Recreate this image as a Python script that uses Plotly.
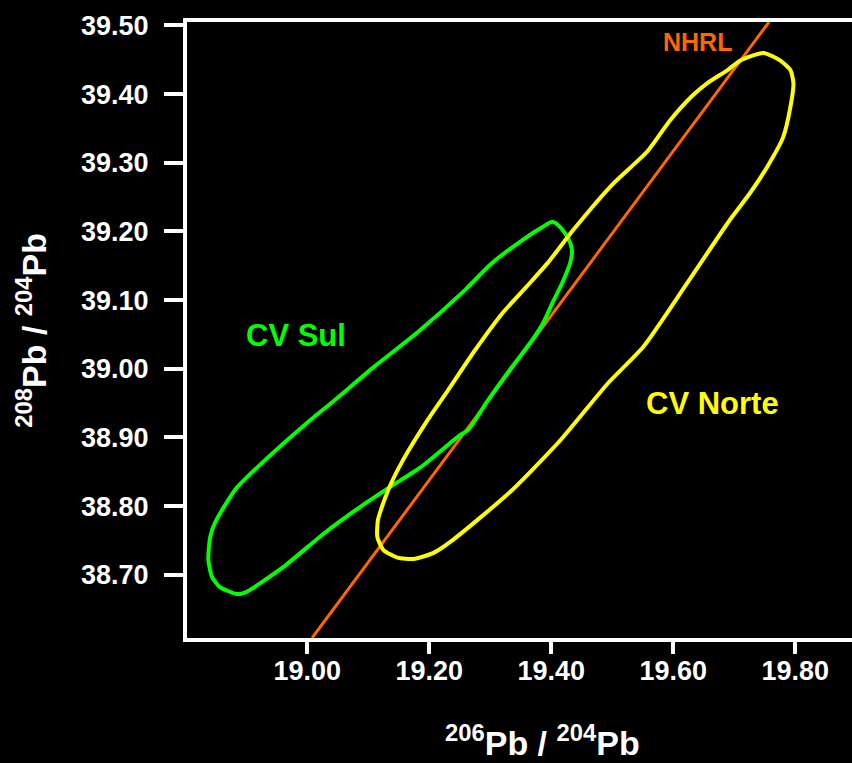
import plotly.graph_objects as go

# CV Sul contour (206Pb/204Pb, 208Pb/204Pb)
sul_x = [19.402, 19.415, 19.428, 19.434, 19.431, 19.418, 19.402, 19.387, 19.369, 19.336,
         19.297, 19.264, 19.250, 19.185, 19.136, 19.087, 19.030, 18.959, 18.898, 18.885,
         18.857, 18.844, 18.838, 18.841, 18.849, 18.882, 18.926, 19.002, 19.046, 19.107,
         19.182, 19.259, 19.303, 19.357, 19.385, 19.402]
sul_y = [39.214, 39.206, 39.190, 39.173, 39.154, 39.125, 39.096, 39.067, 39.042, 39.003,
         38.955, 38.911, 38.903, 38.856, 38.828, 38.799, 38.762, 38.710, 38.674, 38.672,
         38.682, 38.697, 38.722, 38.755, 38.776, 38.824, 38.863, 38.923, 38.955, 39.001,
         39.054, 39.115, 39.154, 39.190, 39.206, 39.214]

# CV Norte contour
norte_x = [19.748, 19.775, 19.792, 19.797, 19.792, 19.780, 19.754, 19.726, 19.693, 19.623,
           19.551, 19.493, 19.415, 19.333, 19.239, 19.207, 19.174, 19.148, 19.125, 19.115,
           19.116, 19.133, 19.157, 19.197, 19.231, 19.275, 19.320, 19.362, 19.395, 19.436,
           19.502, 19.557, 19.595, 19.633, 19.656, 19.689, 19.710, 19.748]
norte_y = [39.460, 39.449, 39.435, 39.416, 39.381, 39.337, 39.294, 39.256, 39.217, 39.125,
           39.032, 38.979, 38.896, 38.821, 38.751, 38.732, 38.723, 38.725, 38.736, 38.755,
           38.780, 38.824, 38.867, 38.925, 38.969, 39.027, 39.081, 39.122, 39.155, 39.202,
           39.270, 39.316, 39.362, 39.399, 39.416, 39.435, 39.449, 39.460]

# NHRL reference line
nhrl_x = [19.008, 19.757]
nhrl_y = [38.608, 39.505]

x_ticks = [19.0, 19.2, 19.4, 19.6, 19.8]
x_tick_text = ["19.00", "19.20", "19.40", "19.60", "19.80"]
y_ticks = [38.7, 38.8, 38.9, 39.0, 39.1, 39.2, 39.3, 39.4, 39.5]
y_tick_text = ["38.70", "38.80", "38.90", "39.00", "39.10", "39.20", "39.30", "39.40", "39.50"]

GREEN = "#00ff00"
YELLOW = "#ffff00"
ORANGE = "#ff6600"
FONT = "Liberation Sans, Arial, sans-serif"

fig = go.Figure()
fig.add_trace(go.Scatter(x=nhrl_x, y=nhrl_y, mode="lines",
                         line=dict(color=ORANGE, width=3), hoverinfo="skip"))
fig.add_trace(go.Scatter(x=sul_x, y=sul_y, mode="lines",
                         line=dict(color=GREEN, width=4, shape="spline", smoothing=0.6)))
fig.add_trace(go.Scatter(x=norte_x, y=norte_y, mode="lines",
                         line=dict(color=YELLOW, width=4, shape="spline", smoothing=0.6)))

fig.add_annotation(x=18.982, y=39.048, text="CV Sul", showarrow=False,
                   font=dict(family=FONT, size=31, color=GREEN, weight="bold"))
fig.add_annotation(x=19.664, y=38.949, text="CV Norte", showarrow=False,
                   font=dict(family=FONT, size=31, color=YELLOW, weight="bold"))
fig.add_annotation(x=19.639, y=39.476, text="NHRL", showarrow=False,
                   font=dict(family=FONT, size=25, color=ORANGE, weight="bold"))

# axis titles
fig.add_annotation(xref="paper", yref="paper", x=0.534, y=-0.167,
                   text="<sup>206</sup>Pb / <sup>204</sup>Pb", showarrow=False,
                   xanchor="center", yanchor="middle",
                   font=dict(family=FONT, size=34, color="white", weight="bold"))
fig.add_annotation(xref="paper", yref="paper", x=-0.235, y=0.5, textangle=-90,
                   text="<sup>208</sup>Pb / <sup>204</sup>Pb", showarrow=False,
                   xanchor="center", yanchor="middle",
                   font=dict(family=FONT, size=34, color="white", weight="bold"))

fig.update_layout(
    width=852, height=763,
    margin=dict(l=187, r=0, t=22, b=125),
    paper_bgcolor="black", plot_bgcolor="black",
    showlegend=False,
    xaxis=dict(range=[18.803, 19.893], tickvals=x_ticks, ticktext=x_tick_text,
               showgrid=False, zeroline=False, showline=True, linecolor="white",
               linewidth=4, mirror=True, ticks="outside", ticklen=12, tickwidth=4,
               tickcolor="white", ticklabelstandoff=-6,
               tickfont=dict(family=FONT, size=27, color="white", weight="bold")),
    yaxis=dict(range=[38.608, 39.505], tickvals=y_ticks, ticktext=y_tick_text,
               showgrid=False, zeroline=False, showline=True, linecolor="white",
               linewidth=4, ticks="outside", ticklen=19, tickwidth=4,
               tickcolor="white", ticklabelstandoff=10,
               tickfont=dict(family=FONT, size=27, color="white", weight="bold")),
)

fig.write_html("out.html", config={"displayModeBar": False},
               post_script="document.body.style.margin='0';document.body.style.background='black';")
